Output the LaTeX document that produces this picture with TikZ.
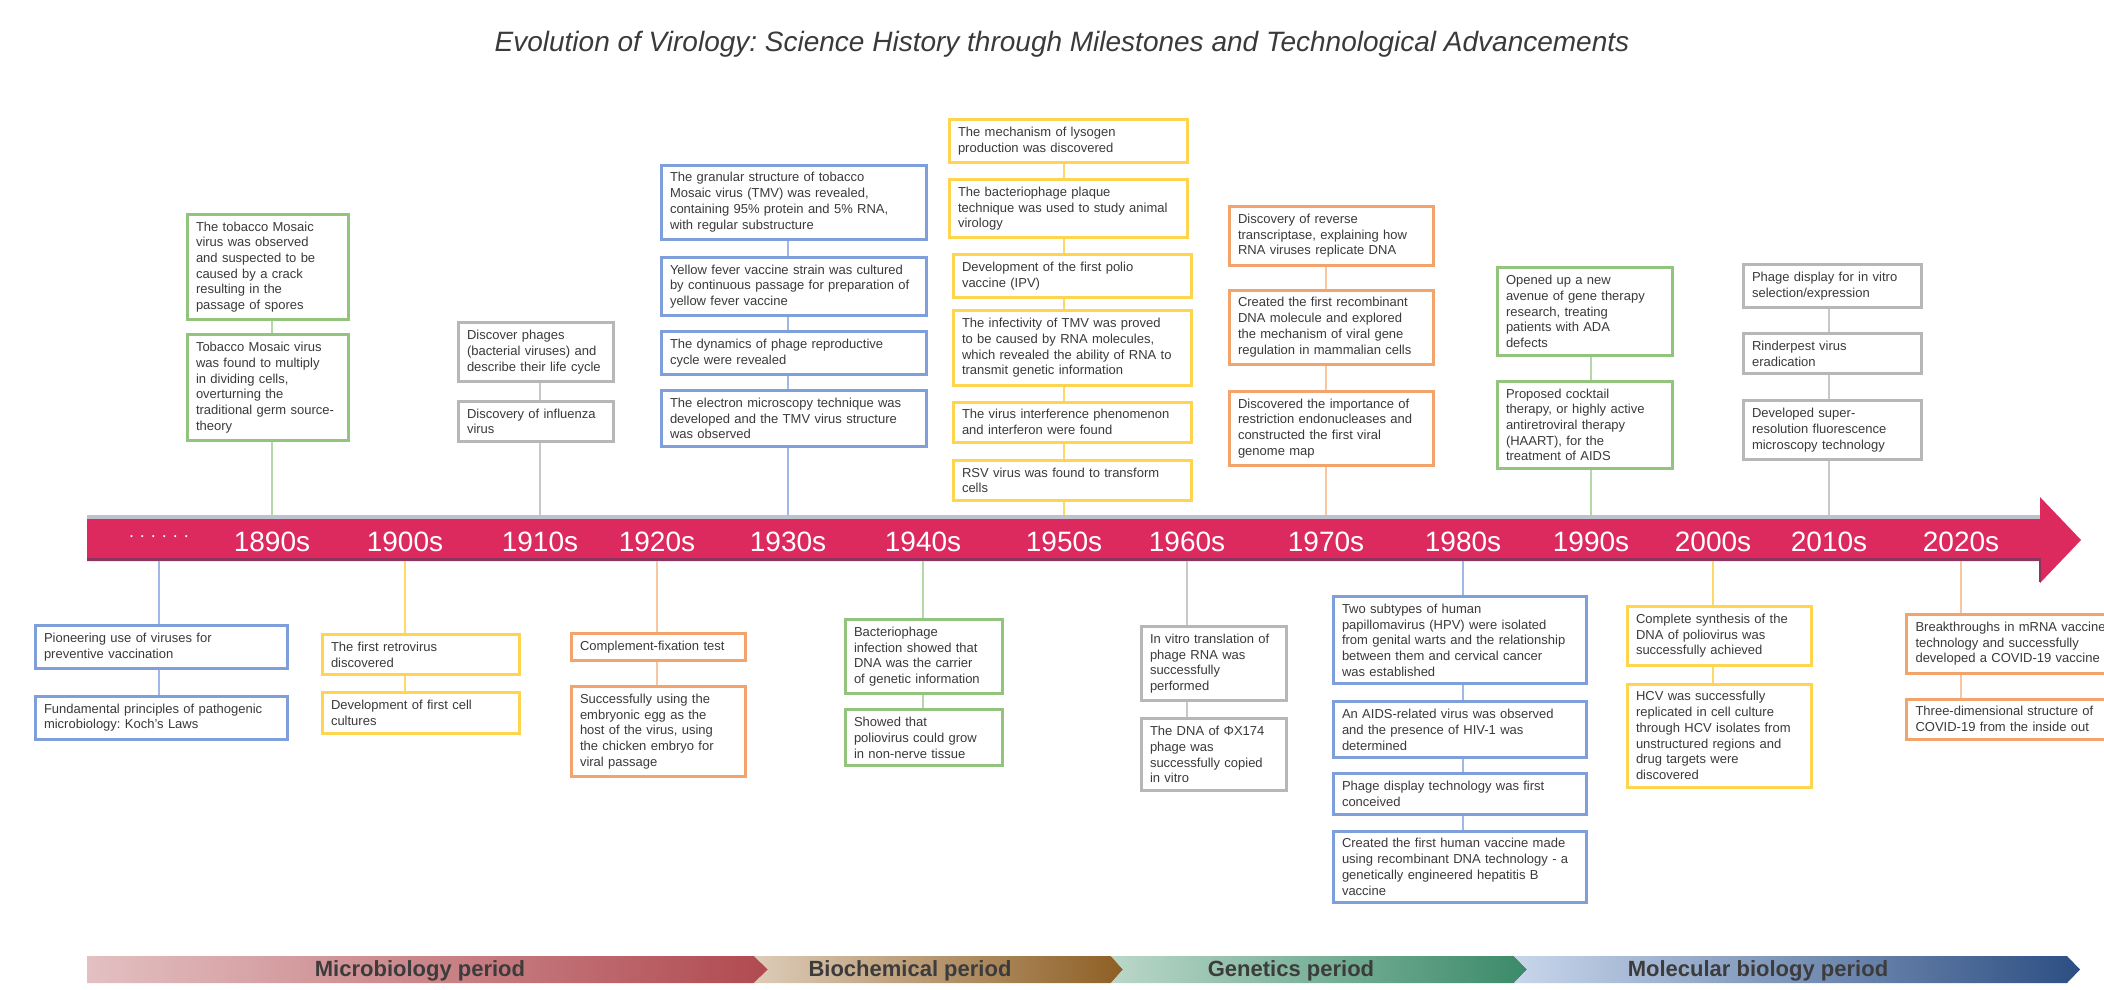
\documentclass[tikz,border=0pt]{standalone}
\usepackage{fontspec}
\setmainfont{Liberation Sans}
\usetikzlibrary{positioning}
\frenchspacing
\hyphenpenalty=10000
\exhyphenpenalty=10000

\definecolor{ink}{HTML}{3A3A3A}
\definecolor{grnline}{HTML}{93C47D}
\definecolor{grnlink}{HTML}{B6D7A8}
\definecolor{greyline}{HTML}{B7B7B7}
\definecolor{greylink}{HTML}{C8C8C8}
\definecolor{bluline}{HTML}{7E9FD9}
\definecolor{blulink}{HTML}{9FB8E6}
\definecolor{yelline}{HTML}{FFD54F}
\definecolor{yellink}{HTML}{FFD966}
\definecolor{orgline}{HTML}{F2A46C}
\definecolor{orglink}{HTML}{F8C7A2}
\definecolor{axisred}{HTML}{DC2A5E}
\definecolor{axisdark}{HTML}{8E3461}
\definecolor{axisgrey}{HTML}{BEC2CC}
\definecolor{micA}{HTML}{E3C0C2}
\definecolor{micB}{HTML}{B04A50}
\definecolor{bioA}{HTML}{DDCCB8}
\definecolor{bioB}{HTML}{8E5F24}
\definecolor{genA}{HTML}{BAD7CA}
\definecolor{genB}{HTML}{3A8A68}
\definecolor{molA}{HTML}{C8D6EB}
\definecolor{molB}{HTML}{2C4E82}
\definecolor{eraink}{HTML}{3C3C3C}

\begin{document}
\begin{tikzpicture}[
  x=1pt, y=-1pt,
  every node/.style={font=\fontsize{13}{15.7}\selectfont, text=ink},
  box/.style={draw, fill=white, line width=3pt, align=left, inner xsep=9pt, inner ysep=7.5pt},
  greenbox/.style={box, draw=grnline},
  greybox/.style={box, draw=greyline},
  bluebox/.style={box, draw=bluline},
  yellowbox/.style={box, draw=yelline},
  orangebox/.style={box, draw=orgline},
  link/.style={line width=2pt},
  decade/.style={text=white, font=\fontsize{28}{30}\selectfont},
  era/.style={font=\bfseries\fontsize{22}{24}\selectfont, text=eraink}
]
\useasboundingbox (0,0) rectangle (2104,989);
\clip (0,0) rectangle (2104,989);

\node[font=\itshape\fontsize{28}{30}\selectfont] (title) at (1062,44)
  {Evolution of Virology: Science History through Milestones and Technological Advancements};

% ------------------------------------------------------------
% the decade axis
% ------------------------------------------------------------
\fill[axisgrey] (87,515) rectangle (2040,520);
\fill[axisred] (87,519) -- (2040,519) -- (2040,497) -- (2081,540) -- (2040,583) -- (2040,561) -- (87,561) -- cycle;
\draw[axisdark, line width=2.5pt] (87,559.5) -- (2040,559.5) -- (2040,582);
\coordinate (axtop) at (0,515);
\coordinate (axbot) at (0,561);

\node[decade, font=\fontsize{18}{20}\selectfont] (yold) at (159,539) {· · · · · ·};
\node[decade] (y1890) at (272,542) {1890s};
\node[decade] (y1900) at (405,542) {1900s};
\node[decade] (y1910) at (540,542) {1910s};
\node[decade] (y1920) at (657,542) {1920s};
\node[decade] (y1930) at (788,542) {1930s};
\node[decade] (y1940) at (923,542) {1940s};
\node[decade] (y1950) at (1064,542) {1950s};
\node[decade] (y1960) at (1187,542) {1960s};
\node[decade] (y1970) at (1326,542) {1970s};
\node[decade] (y1980) at (1463,542) {1980s};
\node[decade] (y1990) at (1591,542) {1990s};
\node[decade] (y2000) at (1713,542) {2000s};
\node[decade] (y2010) at (1829,542) {2010s};
\node[decade] (y2020) at (1961,542) {2020s};

% ------------------------------------------------------------
% milestones above the axis
% ------------------------------------------------------------
\node[greenbox, text width=143pt, anchor=south] (a1890) at (267.5,442)
  {Tobacco Mosaic virus\\was found to multiply\\in dividing cells,\\overturning the\\traditional germ source-\\theory};
\node[greenbox, text width=143pt, above=12pt of a1890] (b1890)
  {The tobacco Mosaic\\virus was observed\\and suspected to be\\caused by a crack\\resulting in the\\passage of spores};
\draw[link, grnlink] (y1890 |- axtop) -- (y1890 |- a1890.south) (y1890 |- a1890.north) -- (y1890 |- b1890.south);

\node[greybox, text width=137pt, anchor=south] (a1910) at (535.5,443)
  {Discovery of influenza\\virus};
\node[greybox, text width=137pt, above=17pt of a1910] (b1910)
  {Discover phages\\(bacterial viruses) and\\describe their life cycle};
\draw[link, greylink] (y1910 |- axtop) -- (y1910 |- a1910.south) (y1910 |- a1910.north) -- (y1910 |- b1910.south);

\node[bluebox, text width=247pt, anchor=south] (a1930) at (793.5,448)
  {The electron microscopy technique was\\developed and the TMV virus structure\\was observed};
\node[bluebox, text width=247pt, above=13pt of a1930] (b1930)
  {The dynamics of phage reproductive\\cycle were revealed};
\node[bluebox, text width=247pt, above=13pt of b1930] (c1930)
  {Yellow fever vaccine strain was cultured\\by continuous passage for preparation of\\yellow fever vaccine};
\node[bluebox, text width=247pt, above=15pt of c1930] (d1930)
  {The granular structure of tobacco\\Mosaic virus (TMV) was revealed,\\containing 95\% protein and 5\% RNA,\\with regular substructure};
\draw[link, blulink] (y1930 |- axtop) -- (y1930 |- a1930.south) (y1930 |- a1930.north) -- (y1930 |- b1930.south)
  (y1930 |- b1930.north) -- (y1930 |- c1930.south) (y1930 |- c1930.north) -- (y1930 |- d1930.south);

\node[yellowbox, text width=220pt, anchor=south] (a1950) at (1072,502)
  {RSV virus was found to transform\\cells};
\node[yellowbox, text width=220pt, above=15pt of a1950] (b1950)
  {The virus interference phenomenon\\and interferon were found};
\node[yellowbox, text width=220pt, above=14pt of b1950] (c1950)
  {The infectivity of TMV was proved\\to be caused by RNA molecules,\\which revealed the ability of RNA to\\transmit genetic information};
\node[yellowbox, text width=220pt, above=10pt of c1950] (d1950)
  {Development of the first polio\\vaccine (IPV)};
\node[yellowbox, text width=220pt, above=14pt of d1950, xshift=-4pt] (e1950)
  {The bacteriophage plaque\\technique was used to study animal\\virology};
\node[yellowbox, text width=220pt, above=14pt of e1950] (f1950)
  {The mechanism of lysogen\\production was discovered};
\draw[link, yellink] (y1950 |- axtop) -- (y1950 |- a1950.south) (y1950 |- a1950.north) -- (y1950 |- b1950.south)
  (y1950 |- b1950.north) -- (y1950 |- c1950.south) (y1950 |- c1950.north) -- (y1950 |- d1950.south)
  (y1950 |- d1950.north) -- (y1950 |- e1950.south) (y1950 |- e1950.north) -- (y1950 |- f1950.south);

\node[orangebox, text width=186pt, anchor=south] (a1970) at (1331,467)
  {Discovered the importance of\\restriction endonucleases and\\constructed the first viral\\genome map};
\node[orangebox, text width=186pt, above=24pt of a1970] (b1970)
  {Created the first recombinant\\DNA molecule and explored\\the mechanism of viral gene\\regulation in mammalian cells};
\node[orangebox, text width=186pt, above=22pt of b1970] (c1970)
  {Discovery of reverse\\transcriptase, explaining how\\RNA viruses replicate DNA};
\draw[link, orglink] (y1970 |- axtop) -- (y1970 |- a1970.south) (y1970 |- a1970.north) -- (y1970 |- b1970.south)
  (y1970 |- b1970.north) -- (y1970 |- c1970.south);

\node[greenbox, text width=157pt, anchor=south] (a1990) at (1584.5,470)
  {Proposed cocktail\\therapy, or highly active\\antiretroviral therapy\\(HAART), for the\\treatment of AIDS};
\node[greenbox, text width=157pt, above=23pt of a1990] (b1990)
  {Opened up a new\\avenue of gene therapy\\research, treating\\patients with ADA\\defects};
\draw[link, grnlink] (y1990 |- axtop) -- (y1990 |- a1990.south) (y1990 |- a1990.north) -- (y1990 |- b1990.south);

\node[greybox, text width=160pt, anchor=south] (a2010) at (1832,461)
  {Developed super-\\resolution fluorescence\\microscopy technology};
\node[greybox, text width=160pt, above=24pt of a2010] (b2010)
  {Rinderpest virus\\eradication};
\node[greybox, text width=160pt, above=23pt of b2010] (c2010)
  {Phage display for in vitro\\selection/expression};
\draw[link, greylink] (y2010 |- axtop) -- (y2010 |- a2010.south) (y2010 |- a2010.north) -- (y2010 |- b2010.south)
  (y2010 |- b2010.north) -- (y2010 |- c2010.south);

% ------------------------------------------------------------
% milestones below the axis
% ------------------------------------------------------------
\node[bluebox, text width=234pt, anchor=north] (aold) at (161,624)
  {Pioneering use of viruses for\\preventive vaccination};
\node[bluebox, text width=234pt, below=25pt of aold] (bold)
  {Fundamental principles of pathogenic\\microbiology: Koch's Laws};
\draw[link, blulink] (yold |- axbot) -- (yold |- aold.north) (yold |- aold.south) -- (yold |- bold.north);

\node[yellowbox, text width=179pt, anchor=north] (a1900) at (420.5,633)
  {The first retrovirus\\discovered};
\node[yellowbox, text width=179pt, below=15pt of a1900] (b1900)
  {Development of first cell\\cultures};
\draw[link, yellink] (y1900 |- axbot) -- (y1900 |- a1900.north) (y1900 |- a1900.south) -- (y1900 |- b1900.north);

\node[orangebox, text width=156pt, anchor=north] (a1920) at (658,632)
  {Complement-fixation test};
\node[orangebox, text width=156pt, below=23pt of a1920] (b1920)
  {Successfully using the\\embryonic egg as the\\host of the virus, using\\the chicken embryo for\\viral passage};
\draw[link, orglink] (y1920 |- axbot) -- (y1920 |- a1920.north) (y1920 |- a1920.south) -- (y1920 |- b1920.north);

\node[greenbox, text width=139pt, anchor=north] (a1940) at (923.5,618)
  {Bacteriophage\\infection showed that\\DNA was the carrier\\of genetic information};
\node[greenbox, text width=139pt, below=13pt of a1940] (b1940)
  {Showed that\\poliovirus could grow\\in non-nerve tissue};
\draw[link, grnlink] (y1940 |- axbot) -- (y1940 |- a1940.north) (y1940 |- a1940.south) -- (y1940 |- b1940.north);

\node[greybox, text width=127pt, anchor=north] (a1960) at (1213.5,625)
  {In vitro translation of\\phage RNA was\\successfully\\performed};
\node[greybox, text width=127pt, below=15pt of a1960] (b1960)
  {The DNA of ΦX174\\phage was\\successfully copied\\in vitro};
\draw[link, greylink] (y1960 |- axbot) -- (y1960 |- a1960.north) (y1960 |- a1960.south) -- (y1960 |- b1960.north);

\node[bluebox, text width=235pt, anchor=north] (a1980) at (1459.5,595)
  {Two subtypes of human\\papillomavirus (HPV) were isolated\\from genital warts and the relationship\\between them and cervical cancer\\was established};
\node[bluebox, text width=235pt, below=15pt of a1980] (b1980)
  {An AIDS-related virus was observed\\and the presence of HIV-1 was\\determined};
\node[bluebox, text width=235pt, below=13pt of b1980] (c1980)
  {Phage display technology was first\\conceived};
\node[bluebox, text width=235pt, below=14pt of c1980] (d1980)
  {Created the first human vaccine made\\using recombinant DNA technology - a\\genetically engineered hepatitis B\\vaccine};
\draw[link, blulink] (y1980 |- axbot) -- (y1980 |- a1980.north) (y1980 |- a1980.south) -- (y1980 |- b1980.north)
  (y1980 |- b1980.south) -- (y1980 |- c1980.north) (y1980 |- c1980.south) -- (y1980 |- d1980.north);

\node[yellowbox, text width=166pt, anchor=north] (a2000) at (1719,605)
  {Complete synthesis of the\\DNA of poliovirus was\\successfully achieved};
\node[yellowbox, text width=166pt, below=16pt of a2000] (b2000)
  {HCV was successfully\\replicated in cell culture\\through HCV isolates from\\unstructured regions and\\drug targets were\\discovered};
\draw[link, yellink] (y2000 |- axbot) -- (y2000 |- a2000.north) (y2000 |- a2000.south) -- (y2000 |- b2000.north);

\node[orangebox, text width=250pt, anchor=north west] (a2020) at (1905,613)
  {Breakthroughs in mRNA vaccine\\technology and successfully\\developed a COVID-19 vaccine};
\node[orangebox, text width=250pt, below=23pt of a2020] (b2020)
  {Three-dimensional structure of\\COVID-19 from the inside out};
\draw[link, orglink] (y2020 |- axbot) -- (y2020 |- a2020.north) (y2020 |- a2020.south) -- (y2020 |- b2020.north);

% ------------------------------------------------------------
% research periods
% ------------------------------------------------------------
\shade[left color=micA, right color=micB] (87,956) -- (754,956) -- (768,969.5) -- (754,983) -- (87,983) -- cycle;
\shade[left color=bioA, right color=bioB] (754,956) -- (1111,956) -- (1123,969.5) -- (1111,983) -- (754,983) -- (768,969.5) -- cycle;
\shade[left color=genA, right color=genB] (1111,956) -- (1514,956) -- (1527,969.5) -- (1514,983) -- (1111,983) -- (1123,969.5) -- cycle;
\shade[left color=molA, right color=molB] (1514,956) -- (2067,956) -- (2080,969.5) -- (2067,983) -- (1514,983) -- (1527,969.5) -- cycle;
\node[era] (emic) at (420,971) {Microbiology period};
\node[era] (ebio) at (910,971) {Biochemical period};
\node[era] (egen) at (1291,971) {Genetics period};
\node[era] (emol) at (1758,971) {Molecular biology period};

\end{tikzpicture}
\end{document}
